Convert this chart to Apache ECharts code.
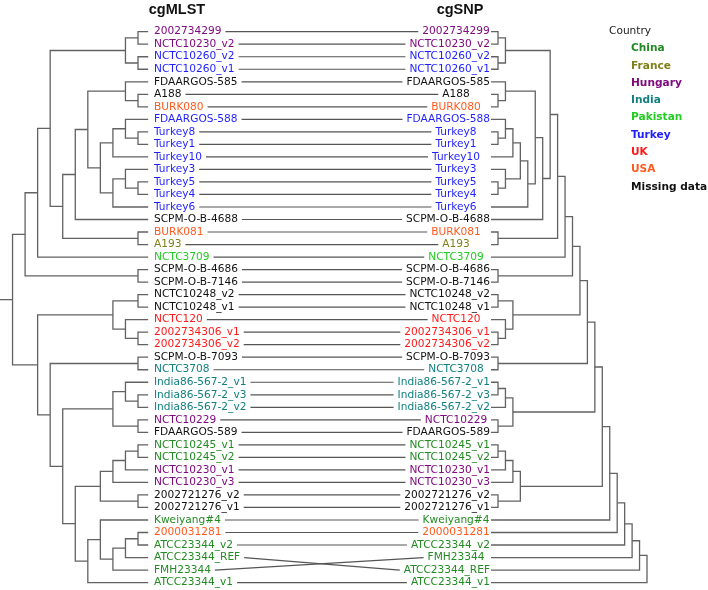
<!DOCTYPE html>
<html><head><meta charset="utf-8">
<script src="https://cdn.jsdelivr.net/npm/echarts@6/dist/echarts.min.js"></script>
<style>html,body{margin:0;padding:0;background:#fff}#c{width:708px;height:590px}</style>
</head><body><div id="c"></div>
<script>
// ---------------- DATA ----------------
const LEFT_TAXA = ['2002734299','NCTC10230_v2','NCTC10260_v2','NCTC10260_v1','FDAARGOS-585','A188','BURK080','FDAARGOS-588','Turkey8','Turkey1','Turkey10','Turkey3','Turkey5','Turkey4','Turkey6','SCPM-O-B-4688','BURK081','A193','NCTC3709','SCPM-O-B-4686','SCPM-O-B-7146','NCTC10248_v2','NCTC10248_v1','NCTC120','2002734306_v1','2002734306_v2','SCPM-O-B-7093','NCTC3708','India86-567-2_v1','India86-567-2_v3','India86-567-2_v2','NCTC10229','FDAARGOS-589','NCTC10245_v1','NCTC10245_v2','NCTC10230_v1','NCTC10230_v3','2002721276_v2','2002721276_v1','Kweiyang#4','2000031281','ATCC23344_v2','ATCC23344_REF','FMH23344','ATCC23344_v1'];
const RIGHT_TAXA = ['2002734299','NCTC10230_v2','NCTC10260_v2','NCTC10260_v1','FDAARGOS-585','A188','BURK080','FDAARGOS-588','Turkey8','Turkey1','Turkey10','Turkey3','Turkey5','Turkey4','Turkey6','SCPM-O-B-4688','BURK081','A193','NCTC3709','SCPM-O-B-4686','SCPM-O-B-7146','NCTC10248_v2','NCTC10248_v1','NCTC120','2002734306_v1','2002734306_v2','SCPM-O-B-7093','NCTC3708','India86-567-2_v1','India86-567-2_v3','India86-567-2_v2','NCTC10229','FDAARGOS-589','NCTC10245_v1','NCTC10245_v2','NCTC10230_v1','NCTC10230_v3','2002721276_v2','2002721276_v1','Kweiyang#4','2000031281','ATCC23344_v2','FMH23344','ATCC23344_REF','ATCC23344_v1'];

const COUNTRIES = ['China','France','Hungary','India','Pakistan','Turkey','UK','USA','Missing data'];
const COUNTRY_COLORS = ['#238b23','#80801a','#800a80','#128080','#22cc22','#1f1fff','#ff1a1a','#ff5a1f','#111111'];
const CHINA = ['NCTC10245_v1','NCTC10245_v2','Kweiyang#4','ATCC23344_v2','ATCC23344_REF','FMH23344','ATCC23344_v1'];
const FRANCE = ['A193'];
const HUNGARY = ['2002734299','NCTC10230_v2','NCTC10229','NCTC10230_v1','NCTC10230_v3'];
const INDIA = ['NCTC3708','India86-567-2_v1','India86-567-2_v3','India86-567-2_v2'];
const PAKISTAN = ['NCTC3709'];
const TURKEY = ['NCTC10260_v2','NCTC10260_v1','FDAARGOS-588','Turkey8','Turkey1','Turkey10','Turkey3','Turkey5','Turkey4','Turkey6'];
const UK = ['NCTC120','2002734306_v1','2002734306_v2'];
const USA = ['BURK080','BURK081','2000031281'];

// cgMLST tree (Newick, built from named clades)
const L_HUNG_TUR = '((2002734299,NCTC10230_v2),(NCTC10260_v2,NCTC10260_v1))';
const L_TURKEY = '(((FDAARGOS-588,(Turkey8,Turkey1)),Turkey10),((Turkey3,(Turkey5,Turkey4)),Turkey6))';
const L_UPPER = `((((${L_HUNG_TUR},((((FDAARGOS-585,(A188,BURK080)),${L_TURKEY}),SCPM-O-B-4688),(BURK081,A193))),NCTC3709),(SCPM-O-B-4686,SCPM-O-B-7146))`;
const L_INDIA = '((India86-567-2_v1,(India86-567-2_v3,India86-567-2_v2)),(NCTC10229,FDAARGOS-589))';
const L_CHINA1 = '((((NCTC10245_v1,NCTC10245_v2),NCTC10230_v1),NCTC10230_v3),(2002721276_v2,2002721276_v1))';
const L_CHINA2 = '((Kweiyang#4,(((2000031281,ATCC23344_v2),ATCC23344_REF),FMH23344)),ATCC23344_v1)';
const L_LOWER = `(((NCTC10248_v2,NCTC10248_v1),(NCTC120,(2002734306_v1,2002734306_v2))),((SCPM-O-B-7093,NCTC3708),(${L_INDIA},(${L_CHINA1},${L_CHINA2}))))`;
const LEFT_TREE = `(${L_UPPER},${L_LOWER})`;

// cgSNP tree
const R_TURKEY = '((((FDAARGOS-588,(Turkey8,Turkey1)),Turkey10),(Turkey3,(Turkey5,Turkey4))),Turkey6)';
const R_A = `(${L_HUNG_TUR},(((FDAARGOS-585,(A188,BURK080)),${R_TURKEY}),SCPM-O-B-4688))`;
const R_B = `((((${R_A},(BURK081,A193)),NCTC3709),(SCPM-O-B-4686,SCPM-O-B-7146)),((NCTC10248_v2,NCTC10248_v1),(NCTC120,(2002734306_v1,2002734306_v2))))`;
const R_C = `((((${R_B},(SCPM-O-B-7093,NCTC3708)),(((India86-567-2_v1,India86-567-2_v3),India86-567-2_v2),(NCTC10229,FDAARGOS-589))),${L_CHINA1}),Kweiyang#4)`;
const RIGHT_TREE = `(((((${R_C},2000031281),ATCC23344_v2),FMH23344),ATCC23344_REF),ATCC23344_v1)`;

const TITLES = ['cgMLST', 'cgSNP'];
const LEGEND_TITLE = 'Country';

// ---------------- LAYOUT ----------------
const FONT = '"DejaVu Sans", Verdana, sans-serif';
const LABEL_SIZE = 10.6;
const ROW_TOP = 31.7, ROW_STEP = 12.52;
const LEFT_STEP = 13.53, LEFT_L1 = 138, LEFT_TIP_PX = 149;
const RIGHT_STEP = 7.45, RIGHT_L1 = 498, RIGHT_TIP_PX = 491;
const TREE_COLOR = '#626262', LINK_COLOR = '#555555';

const COLOR_OF = {};
[CHINA, FRANCE, HUNGARY, INDIA, PAKISTAN, TURKEY, UK, USA].forEach((arr, i) => arr.forEach(n => COLOR_OF[n] = COUNTRY_COLORS[i]));
const colorOf = n => COLOR_OF[n] || COUNTRY_COLORS[8];

const mctx = document.createElement('canvas').getContext('2d');
function textWidth(s, size, weight) { mctx.font = (weight || 'normal') + ' ' + size + 'px ' + FONT; return mctx.measureText(s).width; }

function parseNewick(s) {
  let i = 0;
  function node() {
    if (s[i] === '(') {
      i++; const kids = [node()];
      while (s[i] === ',') { i++; kids.push(node()); }
      i++; return kids;
    }
    const j = i; while (i < s.length && !',()'.includes(s[i])) i++;
    return s.slice(j, i).trim();
  }
  return node();
}
function layoutTree(tree, order, leafLevel) {
  const segs = [];
  let depth = 0;
  function walk(n) {
    if (typeof n === 'string') return { level: 0, x: leafLevel, row: order.indexOf(n) };
    const kids = n.map(walk);
    const level = Math.max(...kids.map(k => k.level)) + 1;
    depth = Math.max(depth, level);
    const a = kids[0], b = kids[kids.length - 1];
    segs.push([a.x, a.row, level, a.row, level, b.row, b.x, b.row]);
    for (let k = 1; k < kids.length - 1; k++) segs.push([kids[k].x, kids[k].row, level, kids[k].row, level, kids[k].row, level, kids[k].row]);
    return { level, x: level, row: (a.row + b.row) / 2 };
  }
  walk(tree);
  return { segs, depth };
}

const leftLeafLevel = 1 - (LEFT_TIP_PX - LEFT_L1) / LEFT_STEP;
const rightLeafLevel = 1 - (RIGHT_L1 - RIGHT_TIP_PX) / RIGHT_STEP;
const LT = layoutTree(parseNewick(LEFT_TREE), LEFT_TAXA, leftLeafLevel);
const RT = layoutTree(parseNewick(RIGHT_TREE), RIGHT_TAXA, rightLeafLevel);

const nRows = LEFT_TAXA.length;
const gridH = ROW_STEP * (nRows - 1);
const leftW = LEFT_STEP * (LT.depth - 1);
const rightW = RIGHT_STEP * (RT.depth - 1);

function treeRender(params, api) {
  const pts = [];
  for (let k = 0; k < 8; k += 2) pts.push(api.coord([api.value(k), api.value(k + 1)]));
  return { type: 'polyline', shape: { points: pts }, style: { stroke: TREE_COLOR, fill: null, lineWidth: 1.3 } };
}

const labelData = [];
LEFT_TAXA.forEach((n, i) => labelData.push([0, i, 0, i]));
RIGHT_TAXA.forEach((n, i) => labelData.push([1, i, 1, i]));
const linkData = LEFT_TAXA.map((n, i) => [i, RIGHT_TAXA.indexOf(n), i]);

function rightLabelEnd(api, row, name) {
  const tip = api.coord([1, row])[0];
  const w = textWidth(name, LABEL_SIZE);
  return Math.min(tip - 1, tip - 35 + w / 2);
}

const labelSeries = {
  type: 'custom', xAxisIndex: 2, yAxisIndex: 2, silent: true, data: labelData,
  renderItem(params, api) {
    const side = api.value(0), row = api.value(1);
    const name = side === 0 ? LEFT_TAXA[api.value(3)] : RIGHT_TAXA[api.value(3)];
    const p = api.coord([side, row]);
    const x = side === 0 ? p[0] + 5 : rightLabelEnd(api, row, name);
    return { type: 'text', x: x, y: p[1], style: { text: name, font: `normal ${LABEL_SIZE}px ${FONT}`, fill: colorOf(name), align: side === 0 ? 'left' : 'right', verticalAlign: 'middle' } };
  }
};
const linkSeries = {
  type: 'custom', xAxisIndex: 2, yAxisIndex: 2, silent: true, data: linkData,
  renderItem(params, api) {
    const name = LEFT_TAXA[api.value(2)];
    const lr = api.value(0), rr = api.value(1);
    const pl = api.coord([0, lr]), pr = api.coord([1, rr]);
    const w = textWidth(name, LABEL_SIZE);
    const x1 = pl[0] + 5 + w + 4;
    const x2 = rightLabelEnd(api, rr, name) - w - 4;
    return { type: 'line', shape: { x1: x1, y1: pl[1], x2: x2, y2: pr[1] }, style: { stroke: LINK_COLOR, lineWidth: 1.2 } };
  }
};

const gridBase = { top: ROW_TOP, height: gridH, containLabel: false };
const yAx = i => ({ type: 'value', gridIndex: i, min: 0, max: nRows - 1, inverse: true, show: false });

const graphics = [
  { type: 'text', x: 177, y: 9.5, style: { text: TITLES[0], font: 'bold 14.5px "Liberation Sans", Arial, sans-serif', fill: '#111', align: 'center', verticalAlign: 'middle' } },
  { type: 'text', x: 460, y: 9.5, style: { text: TITLES[1], font: 'bold 14.5px "Liberation Sans", Arial, sans-serif', fill: '#111', align: 'center', verticalAlign: 'middle' } },
  { type: 'text', x: 609, y: 31.7, style: { text: LEGEND_TITLE, font: `normal 10.6px ${FONT}`, fill: '#222', align: 'left', verticalAlign: 'middle' } }
];
COUNTRIES.forEach((c, i) => graphics.push({ type: 'text', x: 631, y: 48.5 + i * 17.3, style: { text: c, font: `bold 10.6px ${FONT}`, fill: COUNTRY_COLORS[i], align: 'left', verticalAlign: 'middle' } }));

const chart = echarts.init(document.getElementById('c'), null, { renderer: 'canvas' });
chart.setOption({
  animation: false,
  backgroundColor: '#ffffff',
  grid: [
    Object.assign({ left: LEFT_L1 - leftW, width: leftW }, gridBase),
    Object.assign({ left: RIGHT_L1, width: rightW }, gridBase),
    Object.assign({ left: LEFT_TIP_PX, width: RIGHT_TIP_PX - LEFT_TIP_PX }, gridBase)
  ],
  xAxis: [
    { type: 'value', gridIndex: 0, min: 1, max: LT.depth, inverse: true, show: false },
    { type: 'value', gridIndex: 1, min: 1, max: RT.depth, show: false },
    { type: 'value', gridIndex: 2, min: 0, max: 1, show: false }
  ],
  yAxis: [yAx(0), yAx(1), yAx(2)],
  graphic: graphics,
  series: [
    { type: 'custom', xAxisIndex: 0, yAxisIndex: 0, silent: true, data: LT.segs, renderItem: treeRender },
    { type: 'custom', xAxisIndex: 1, yAxisIndex: 1, silent: true, data: RT.segs, renderItem: treeRender },
    linkSeries,
    labelSeries
  ]
});
</script>
</body></html>
